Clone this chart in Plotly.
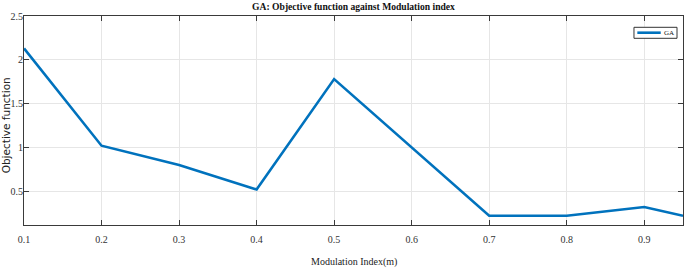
import plotly.graph_objects as go

modulation_index = [0.1, 0.2, 0.3, 0.4, 0.5, 0.6, 0.7, 0.8, 0.9, 0.95]
objective_ga = [2.13, 1.02, 0.80, 0.52, 1.78, 1.00, 0.22, 0.22, 0.32, 0.22]
x_ticks = [0.1, 0.2, 0.3, 0.4, 0.5, 0.6, 0.7, 0.8, 0.9]
y_ticks = [0.5, 1, 1.5, 2, 2.5]
series_name = "GA"

serif = "Liberation Serif"
line_color = "#0072BD"

fig = go.Figure()
fig.add_trace(go.Scatter(
    x=modulation_index, y=objective_ga, mode="lines", name=series_name,
    line=dict(color=line_color, width=2.6), showlegend=False,
))

axis_common = dict(
    showline=True, linecolor="#3a3a3a", linewidth=1, mirror="ticks",
    ticks="inside", ticklen=5, tickcolor="#3a3a3a",
    showgrid=True, gridcolor="#e6e6e6", gridwidth=1, zeroline=False,
    tickfont=dict(family=serif, size=10, color="#333333"),
    automargin=False,
)

fig.update_layout(
    width=685, height=269,
    margin=dict(l=24, r=2, t=16, b=44),
    paper_bgcolor="white", plot_bgcolor="white",
    title=dict(text="<b>GA: Objective function against Modulation index</b>",
               x=0.5, xref="paper", xanchor="center", y=0.974, yref="container",
               yanchor="middle",
               font=dict(family=serif, size=9.6, color="#111111"),
               automargin=False),
    xaxis=dict(range=[0.1, 0.95], tickvals=x_ticks,
               ticktext=[f"{v:g}" for v in x_ticks],
               ticklabelstandoff=5,
               **axis_common),
    yaxis=dict(range=[0.115, 2.5], tickvals=y_ticks,
               ticktext=[f"{v:g}" for v in y_ticks],
               ticklabelstandoff=-2,
               **axis_common),
    showlegend=False,
    annotations=[
        dict(text="Objective function", textangle=-90,
             xref="paper", yref="paper", x=-0.027, y=0.478,
             xanchor="center", yanchor="middle", showarrow=False,
             font=dict(family="DejaVu Sans", size=10.5, color="#222222")),
        dict(text="Modulation Index(m)",
             xref="paper", yref="paper", x=0.5, y=-0.177,
             xanchor="center", yanchor="middle", showarrow=False,
             font=dict(family=serif, size=10, color="#222222")),
        dict(text=series_name,
             xref="paper", yref="paper", x=0.9677, y=0.9201,
             xanchor="left", yanchor="middle", showarrow=False,
             font=dict(family=serif, size=7, color="#111111")),
    ],
    shapes=[
        dict(type="rect", xref="paper", yref="paper",
             x0=0.9256, x1=0.9909, y0=0.8933, y1=0.9459,
             line=dict(color="#333333", width=1), fillcolor="white", layer="above"),
        dict(type="line", xref="paper", yref="paper",
             x0=0.9307, x1=0.9662, y0=0.9201, y1=0.9201,
             line=dict(color=line_color, width=2.6), layer="above"),
    ],
)

fig.write_html("out.html", config={"displayModeBar": False},
               post_script="document.body.style.margin='0';")
